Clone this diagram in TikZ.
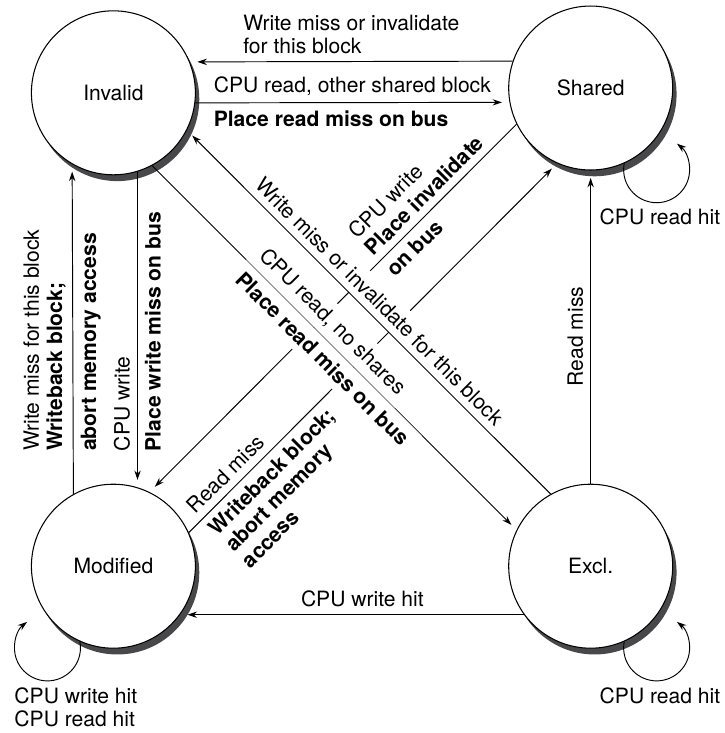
\documentclass[tikz,border=0pt]{standalone}
\usepackage{fontspec}
\setmainfont{TeX Gyre Heros}
\usetikzlibrary{arrows.meta}
\newcommand{\labfont}{\fontsize{10}{11}\selectfont}
\definecolor{shadowgray}{RGB}{72,72,74}
\begin{document}
\begin{tikzpicture}[every node/.style={font=\labfont},
  state/.style={circle,draw,fill=white,line width=.5pt,minimum size=2.733cm,inner sep=0pt},
  selfarc/.style={line width=.45pt,-{Stealth[length=4.5pt,width=3pt]}},
  tr/.style={selfarc,shorten >=3.5pt},
  bold/.style={font=\labfont\bfseries},
  lbl/.style={sloped},
  cut/.style={sloped,fill=white}]
\useasboundingbox (0,0) rectangle (12.067,12.217);
\foreach \name/\txt/\x/\y in {inv/Invalid/1.89/10.67,shr/Shared/9.845/10.75,
  mod/Modified/1.89/2.78,exc/Excl./9.845/2.78}{
  \fill[shadowgray] (\x+.065,\y-.105) circle[radius=1.3665cm];
  \node[state] (\name) at (\x,\y) {\txt};}
% top and bottom rows
\draw[tr] (shr.161.5) -- node[above,align=left]{Write miss or invalidate\\for this block} (inv.22.2);
\draw[tr] (inv.-7) -- node[pos=.035,anchor=south west]{CPU read, other shared block}
  node[pos=.035,anchor=north west,bold]{Place read miss on bus} (shr.190.5);
\draw[tr] (exc.216.7) -- node[pos=.47,above]{CPU write hit} (mod.-36.7);
% columns
\draw[tr] (inv.-73) -- node[rotate=90,pos=.909,anchor=south west]{CPU write}
  node[rotate=90,pos=.909,anchor=north west,bold]{Place write miss on bus} (mod.73);
\draw[tr] (mod.119.5) -- node[rotate=90,pos=.108,anchor=south west,align=left]
  {Write miss for this block\\\textbf{Writeback block;}}
  node[rotate=90,pos=.108,anchor=north west,bold]{abort memory access} (inv.240.5);
\draw[tr] (exc.90) -- node[rotate=90,pos=.47,above]{Read miss} (shr.270);
% diagonals
\draw[tr] (shr.206) -- node[lbl,pos=.388,anchor=south west,align=left]{CPU write\\\textbf{Place invalidate}}
  node[lbl,pos=.388,anchor=north west,bold]{on bus} (mod.64.4);
\draw[tr] (mod.24) -- node[lbl,pos=.02,anchor=south west]{Read miss}
  node[lbl,pos=.02,anchor=north west,bold,align=left]{Writeback block;\\abort memory\\access} (shr.246);
\draw[tr] (inv.-62) -- node[cut,pos=.257,anchor=south west]{CPU read, no shares}
  node[cut,pos=.257,anchor=north west,bold]{Place read miss on bus} (exc.154);
\draw[tr] (exc.119) -- node[cut,midway,above]{Write miss or invalidate for this block} (inv.-27);
% self loops
\foreach \s in {shr,exc}
  \draw[selfarc] (\s.-66) arc[start angle=169,end angle=412,radius=.55cm];
\draw[selfarc] (mod.246) arc[start angle=11,end angle=-232,radius=.55cm];
\node (shrhit) at (11.0,8.6) {CPU read hit};
\node (exchit) at (11.0,.617) {CPU read hit};
\node[anchor=north west,align=left] (modhit) at (.117,.875) {CPU write hit\\CPU read hit};
\end{tikzpicture}
\end{document}
